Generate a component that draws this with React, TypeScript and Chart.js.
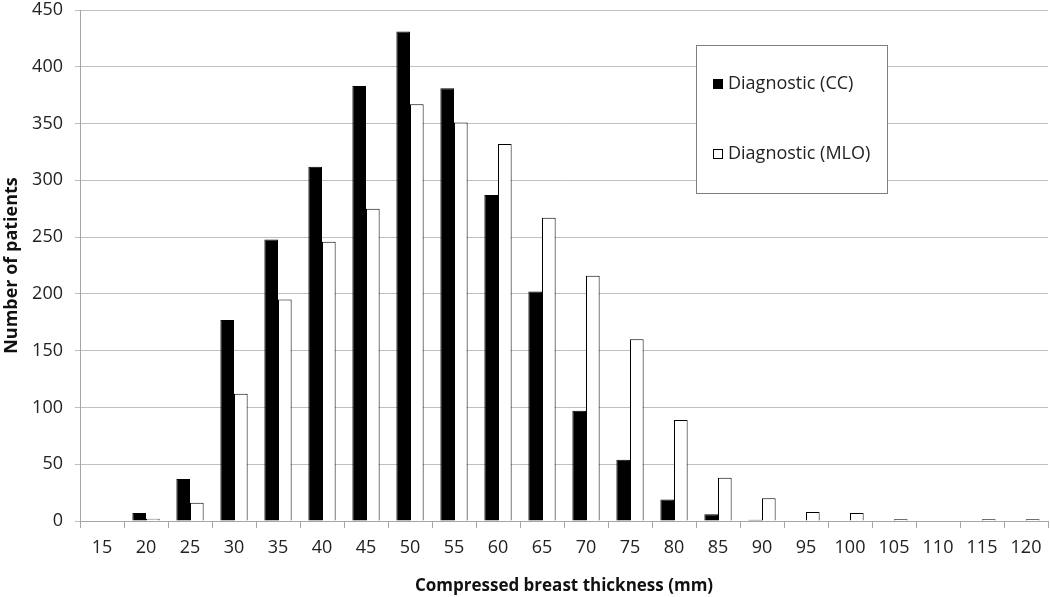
import React, { useEffect, useRef } from "react";
import { Chart, registerables } from "chart.js";

Chart.register(...registerables);

const categories = ["15","20","25","30","35","40","45","50","55","60","65","70","75","80","85","90","95","100","105","110","115","120"];
const ccValues = [0,7,37,177,248,312,383,431,381,287,202,97,54,19,6,1,0,0,0,0,0,0];
const mloValues = [0,2,16,112,195,246,275,367,351,332,267,216,160,89,38,20,8,7,1.5,0,1.5,1.5];
const seriesLabels = ["Diagnostic (CC)", "Diagnostic (MLO)"];
const yMin = 0;
const yMax = 450;
const yStep = 50;
const xTitle = "Compressed breast thickness (mm)";
const yTitle = "Number of patients";

const FONT = "'Open Sans', sans-serif";

const boxLegend = {
  id: "boxLegend",
  afterDraw(chart: any) {
    const ctx = chart.ctx;
    ctx.save();
    const bx = 696, by = 45, bw = 191, bh = 148;
    ctx.fillStyle = "#ffffff";
    ctx.fillRect(bx, by, bw, bh);
    ctx.strokeStyle = "#7f7f7f";
    ctx.lineWidth = 1;
    ctx.strokeRect(bx + 0.5, by + 0.5, bw, bh);
    const rows = [84, 154];
    chart.data.datasets.forEach((ds: any, i: number) => {
      const cy = rows[i];
      ctx.fillStyle = ds.backgroundColor;
      ctx.fillRect(713, cy - 5, 10, 10);
      ctx.strokeStyle = "#000";
      ctx.strokeRect(713.5, cy - 4.5, 9, 9);
      ctx.fillStyle = "#222";
      ctx.font = `18px ${FONT}`;
      ctx.textBaseline = "middle";
      ctx.textAlign = "left";
      ctx.fillText(ds.label, 728, cy);
    });
    ctx.restore();
  },
};

export default function App() {
  const ref = useRef<HTMLCanvasElement | null>(null);
  useEffect(() => {
    document.body.style.margin = "0";
    const chart = new Chart(ref.current as HTMLCanvasElement, {
      type: "bar",
      data: {
        labels: categories,
        datasets: [
          {
            label: seriesLabels[0],
            data: ccValues,
            backgroundColor: "#000000",
            borderColor: "#000000",
            borderWidth: 1,
            categoryPercentage: 0.62,
            barPercentage: 1,
          },
          {
            label: seriesLabels[1],
            data: mloValues,
            backgroundColor: "#ffffff",
            borderColor: "#000000",
            borderWidth: 1,
            categoryPercentage: 0.62,
            barPercentage: 1,
          },
        ],
      },
      options: {
        animation: false,
        responsive: false,
        maintainAspectRatio: false,
        layout: { padding: { top: 10, right: 2, left: 0, bottom: 0 } },
        plugins: {
          legend: { display: false },
          tooltip: { enabled: false },
        },
        scales: {
          x: {
            offset: true,
            grid: {
              display: true,
              drawOnChartArea: false,
              drawTicks: true,
              tickLength: 7,
              color: "#a6a6a6",
              offset: true,
            },
            border: { color: "#a6a6a6" },
            ticks: {
              color: "#222",
              font: { family: FONT, size: 18 },
              padding: 9,
              maxRotation: 0,
              autoSkip: false,
            },
            title: {
              display: true,
              text: xTitle,
              color: "#111",
              font: { family: FONT, size: 17, weight: "bold" },
              padding: { top: 4, bottom: 1 },
            },
            afterFit(scale: any) {
              scale.height = 76;
              scale.paddingRight = 0;
            },
          },
          y: {
            min: yMin,
            max: yMax,
            ticks: {
              stepSize: yStep,
              color: "#222",
              font: { family: FONT, size: 18 },
              padding: 12,
            },
            grid: {
              color: "#bfbfbf",
              tickLength: 5,
              drawTicks: true,
            },
            border: { color: "#a6a6a6" },
            title: {
              display: true,
              text: yTitle,
              color: "#111",
              font: { family: FONT, size: 18, weight: "bold" },
              padding: { top: 1, bottom: 4 },
            },
            afterFit(scale: any) {
              scale.width = 80;
              scale.paddingTop = 0;
              scale.paddingBottom = 0;
            },
          },
        },
      },
      plugins: [boxLegend],
    });
    return () => chart.destroy();
  }, []);
  return (
    <div style={{ width: 1050, height: 597, background: "#fff" }}>
      <canvas ref={ref} width={1050} height={597} style={{ display: "block" }} />
    </div>
  );
}
